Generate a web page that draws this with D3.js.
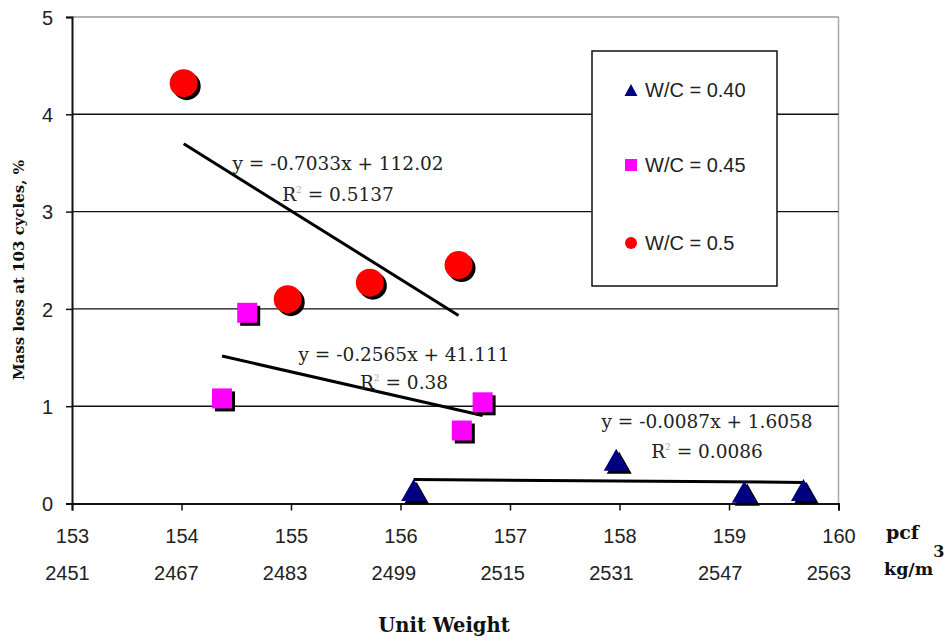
<!DOCTYPE html>
<html>
<head>
<meta charset="utf-8">
<script src="https://cdn.jsdelivr.net/npm/d3@7"></script>
<style>
  html, body { margin: 0; padding: 0; background: #fff; }
  svg { display: block; }
  .tick text { font-family: "Liberation Sans", Arial, sans-serif; font-size: 20px; fill: #222; }
</style>
</head>
<body>
<svg id="chart" width="949" height="640"></svg>
<script>
// Unit weight (pcf) and mass loss (%) for each water/cement ratio
const wc040X = [156.12, 157.97, 159.14, 159.68];
const wc040Y = [0.14, 0.45, 0.12, 0.14];
const wc045X = [154.37, 154.60, 156.56, 156.75];
const wc045Y = [1.08, 1.96, 0.75, 1.04];
const wc050X = [154.02, 154.97, 155.72, 156.53];
const wc050Y = [4.32, 2.10, 2.27, 2.45];

// Linear trend lines: slope, intercept, R²
const trendSlope = [-0.0087, -0.2565, -0.7033];
const trendIntercept = [1.6058, 41.111, 112.02];
const trendR2 = ["0.0086", "0.38", "0.5137"];

const seriesNames = ["W/C = 0.40", "W/C = 0.45", "W/C = 0.5"];
const pcfTicks = [153, 154, 155, 156, 157, 158, 159, 160];
const kgTicks = [2451, 2467, 2483, 2499, 2515, 2531, 2547, 2563];
const yTicks = [0, 1, 2, 3, 4, 5];

const svg = d3.select("#chart");
const plotLeft = 72, plotRight = 838.5, plotTop = 17, plotBottom = 503.5;

const x = d3.scaleLinear().domain([153, 160]).range([plotLeft, plotRight]);
const y = d3.scaleLinear().domain([0, 5]).range([plotBottom, plotTop]);
const xKg = d3.scaleLinear().domain([2451, 2563]).range([plotLeft - 5, plotRight - 10]);

// plot border (top/right) and gridlines
svg.append("line").attr("x1", plotLeft).attr("x2", plotRight).attr("y1", y(5)).attr("y2", y(5))
  .attr("stroke", "#9a9a9a").attr("stroke-width", 1.5);
svg.append("line").attr("x1", plotRight).attr("x2", plotRight).attr("y1", plotTop).attr("y2", plotBottom)
  .attr("stroke", "#a8a8a8").attr("stroke-width", 1.5);
svg.append("g").selectAll("line").data([1, 2, 3, 4]).join("line")
  .attr("x1", plotLeft).attr("x2", plotRight)
  .attr("y1", d => y(d)).attr("y2", d => y(d))
  .attr("stroke", "#111").attr("stroke-width", 1.4);

// axes
const yAxis = svg.append("g").attr("transform", `translate(${plotLeft},0)`)
  .call(d3.axisLeft(y).tickValues(yTicks).tickSize(6).tickPadding(13).tickFormat(d3.format("d")));
const xAxis = svg.append("g").attr("transform", `translate(0,${plotBottom})`)
  .call(d3.axisBottom(x).tickValues(pcfTicks).tickSize(7).tickPadding(18).tickFormat(d3.format("d")));
const kgAxis = svg.append("g").attr("transform", `translate(0,${plotBottom})`)
  .call(d3.axisBottom(xKg).tickValues(kgTicks).tickSize(0).tickPadding(62).tickFormat(d3.format("d")));
kgAxis.select(".domain").remove();
[yAxis, xAxis].forEach(a => {
  a.select(".domain").attr("stroke", "#111").attr("stroke-width", 2);
  a.selectAll(".tick line").attr("stroke", "#111").attr("stroke-width", 1.5);
});
yAxis.selectAll(".tick text").attr("dy", "0.36em");

// trend lines over each series' x range
const seriesX = [wc040X, wc045X, wc050X];
seriesX.forEach((xs, i) => {
  const [x0, x1] = d3.extent(xs);
  const f = v => trendSlope[i] * v + trendIntercept[i];
  svg.append("line")
    .attr("x1", x(x0)).attr("y1", y(f(x0)))
    .attr("x2", x(x1)).attr("y2", y(f(x1)))
    .attr("stroke", "#000").attr("stroke-width", 3);
});

// markers with drop shadow
function trianglePath(w, h) {
  return `M0,${-h / 2}L${w / 2},${h / 2}L${-w / 2},${h / 2}Z`;
}
function drawMarkers(xs, ys, kind, color) {
  const pts = xs.map((v, i) => ({ x: v, y: ys[i] }));
  const layers = [{ dx: 3, dy: 3, fill: "#000" }, { dx: 0, dy: 0, fill: color }];
  layers.forEach(L => {
    const g = svg.append("g");
    pts.forEach(p => {
      const cx = x(p.x) + L.dx, cy = y(p.y) + L.dy;
      if (kind === "circle") {
        g.append("circle").attr("cx", cx).attr("cy", cy).attr("r", 14).attr("fill", L.fill);
      } else if (kind === "square") {
        g.append("rect").attr("x", cx - 10).attr("y", cy - 10).attr("width", 20).attr("height", 20).attr("fill", L.fill);
      } else {
        g.append("path").attr("d", trianglePath(25, 22)).attr("transform", `translate(${cx},${cy})`).attr("fill", L.fill);
      }
    });
  });
}
const colors = ["#000080", "#ff00ff", "#ff0000"];
drawMarkers(wc045X, wc045Y, "square", colors[1]);
drawMarkers(wc050X, wc050Y, "circle", colors[2]);
drawMarkers(wc040X, wc040Y, "triangle", colors[0]);

// trend equations
const eqPos = [[707, 428, 458], [404, 361, 389], [338, 170, 201]];
trendSlope.forEach((s, i) => {
  const [cx, y1, y2] = eqPos[i];
  const sign = trendIntercept[i] >= 0 ? "+" : "-";
  svg.append("text").attr("x", cx).attr("y", y1).attr("text-anchor", "middle")
    .attr("font-family", "'DejaVu Serif', serif").attr("font-size", 18.5).attr("fill", "#222")
    .text(`y = ${s}x ${sign} ${Math.abs(trendIntercept[i])}`);
  const t = svg.append("text").attr("x", cx).attr("y", y2).attr("text-anchor", "middle")
    .attr("font-family", "'DejaVu Serif', serif").attr("font-size", 18.5).attr("fill", "#222");
  t.append("tspan").text("R");
  t.append("tspan").attr("font-size", 9).attr("dy", -8).attr("fill", "#aaa").text("2");
  t.append("tspan").attr("dy", 8).text(` = ${trendR2[i]}`);
});

// legend
const lg = svg.append("g");
lg.append("rect").attr("x", 592).attr("y", 51).attr("width", 185).attr("height", 235)
  .attr("fill", "#fff").attr("stroke", "#111").attr("stroke-width", 1.5);
const legendY = [90, 165, 243];
seriesNames.forEach((name, i) => {
  const ly = legendY[i];
  if (i === 0) lg.append("path").attr("d", trianglePath(13, 12)).attr("transform", `translate(631,${ly})`).attr("fill", colors[0]);
  if (i === 1) lg.append("rect").attr("x", 625).attr("y", ly - 6).attr("width", 12).attr("height", 12).attr("fill", colors[1]);
  if (i === 2) lg.append("circle").attr("cx", 631).attr("cy", ly).attr("r", 6).attr("fill", colors[2]);
  lg.append("text").attr("x", 645).attr("y", ly).attr("dy", "0.36em")
    .attr("font-family", "'Liberation Sans', Arial, sans-serif").attr("font-size", 20).attr("fill", "#222")
    .text(name);
});

// axis titles and units
const boldSerif = "'DejaVu Serif', serif";
svg.append("text").attr("transform", "translate(24,270) rotate(-90)").attr("text-anchor", "middle")
  .attr("font-family", boldSerif).attr("font-weight", "bold").attr("font-size", 15).attr("fill", "#111")
  .text("Mass loss at 103 cycles, %");
svg.append("text").attr("x", 444).attr("y", 632).attr("text-anchor", "middle")
  .attr("font-family", boldSerif).attr("font-weight", "bold").attr("font-size", 19.5).attr("fill", "#111")
  .text("Unit Weight");
svg.append("text").attr("x", 886).attr("y", 539)
  .attr("font-family", boldSerif).attr("font-weight", "bold").attr("font-size", 19).attr("fill", "#111")
  .text("pcf");
const kgT = svg.append("text").attr("x", 884).attr("y", 575)
  .attr("font-family", boldSerif).attr("font-weight", "bold").attr("font-size", 17.5).attr("fill", "#111");
kgT.append("tspan").text("kg/m");
kgT.append("tspan").attr("dy", -18).attr("font-size", 16).text("3");
</script>
</body>
</html>
